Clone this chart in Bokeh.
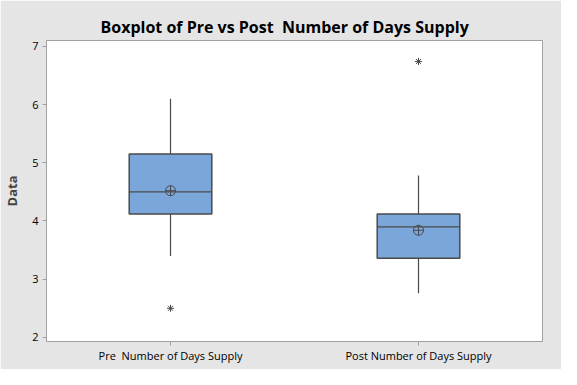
from bokeh.plotting import figure
from bokeh.models import FixedTicker, ColumnDataSource, Range1d
from bokeh.embed import file_html
from bokeh.resources import INLINE

categories = ["Pre\u00a0 Number of Days Supply", "Post Number of Days Supply"]
positions = [1, 2]
q1 = [4.12, 3.36]
median = [4.50, 3.90]
q3 = [5.15, 4.12]
whisker_low = [3.40, 2.76]
whisker_high = [6.10, 4.78]
means = [4.52, 3.84]
outlier_pos = [1, 2]
outlier_vals = [2.50, 6.74]

box_width = 0.333
font = "Open Sans"

p = figure(width=561, height=369, output_backend="svg", toolbar_location=None,
           x_range=Range1d(0.5, 2.5), y_range=Range1d(1.93, 7.10),
           min_border_left=42, min_border_right=19, min_border_top=40, min_border_bottom=28)

p.background_fill_color = "white"
p.border_fill_color = "#e5e5e5"
p.outline_line_color = "#a0a0a0"
p.outline_line_width = 1
p.grid.visible = False

src = ColumnDataSource(dict(x=positions, q1=q1, q3=q3, med=median, lo=whisker_low, hi=whisker_high,
                            mean=means,
                            xl=[x - box_width / 2 for x in positions],
                            xr=[x + box_width / 2 for x in positions]))

edge = "#4a4a4a"
p.segment(x0="x", y0="q3", x1="x", y1="hi", source=src, line_color=edge, line_width=1.2)
p.segment(x0="x", y0="lo", x1="x", y1="q1", source=src, line_color=edge, line_width=1.2)
p.quad(left="xl", right="xr", bottom="q1", top="q3", source=src,
       fill_color="#7ba6d9", line_color=edge, line_width=1.5)
p.segment(x0="xl", y0="med", x1="xr", y1="med", source=src, line_color=edge, line_width=1.2)
p.scatter(x="x", y="mean", source=src, marker="circle_cross", size=10,
          fill_color=None, line_color=edge, line_width=1)
p.scatter(x=outlier_pos, y=outlier_vals, marker="asterisk", size=7, line_color=edge, line_width=1)

p.title.text = "Boxplot of Pre vs Post\u00a0 Number of Days Supply"
p.title.align = "left"
p.title.offset = 54
p.title.text_font = font
p.title.text_font_size = "16px"
p.title.text_font_style = "bold"
p.title.text_color = "black"
p.title.standoff = 6

p.xaxis.ticker = FixedTicker(ticks=positions)
p.xaxis.major_label_overrides = {pos: lab for pos, lab in zip(positions, categories)}
p.xaxis.minor_tick_line_color = None
p.yaxis.ticker = FixedTicker(ticks=[2, 3, 4, 5, 6, 7])
p.yaxis.minor_tick_line_color = None
p.yaxis.axis_label = "Data"
p.yaxis.axis_label_text_font = font
p.yaxis.axis_label_text_font_style = "bold"
p.yaxis.axis_label_text_font_size = "13px"
p.yaxis.axis_label_standoff = 8
for ax in (p.xaxis, p.yaxis):
    ax.axis_line_color = "#a0a0a0"
    ax.major_tick_line_color = "#a0a0a0"
    ax.major_tick_out = 4
    ax.major_tick_in = 0
    ax.major_label_text_font = font
    ax.major_label_text_font_size = "11px"
    ax.major_label_text_color = "black"
p.yaxis.major_label_standoff = 4
p.xaxis.major_label_standoff = 2

open("out.html", "w").write(file_html(p, INLINE))
